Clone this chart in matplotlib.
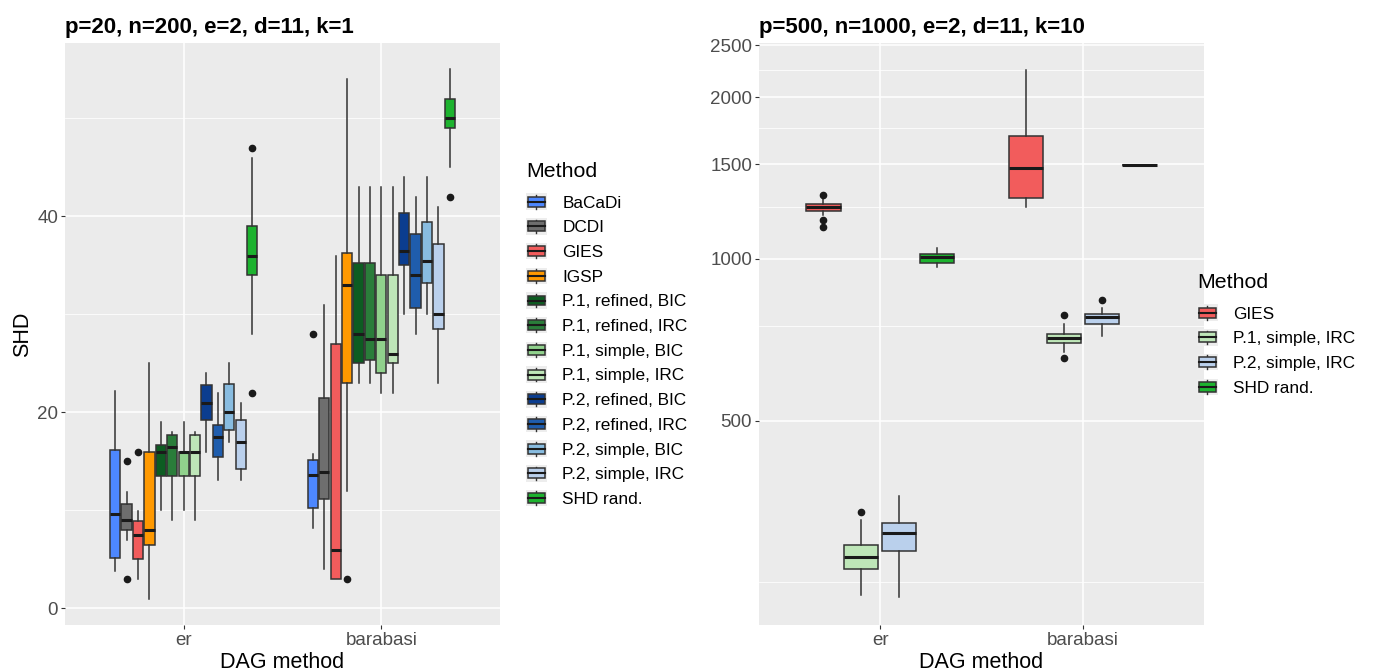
import matplotlib
matplotlib.use("Agg")
import matplotlib.pyplot as plt
from matplotlib.patches import Rectangle
from matplotlib.lines import Line2D
from matplotlib.legend_handler import HandlerBase
from matplotlib.ticker import FixedLocator, NullFormatter, FixedFormatter

plt.rcParams["font.family"] = ["Liberation Sans", "DejaVu Sans"]

# ---- left panel: p=20, n=200 ----
METHODS = ["BaCaDi", "DCDI", "GIES", "IGSP",
           "P.1, refined, BIC", "P.1, refined, IRC", "P.1, simple, BIC", "P.1, simple, IRC",
           "P.2, refined, BIC", "P.2, refined, IRC", "P.2, simple, BIC", "P.2, simple, IRC",
           "SHD rand."]
COLORS = ["#4D87FF", "#6E6E6E", "#F25C5C", "#FF9900",
          "#0D5C22", "#2A7D3A", "#90D18C", "#BEE6B8",
          "#0B3D8F", "#1F5DAD", "#88BCE0", "#BAD0EC",
          "#1DB32F"]
GROUPS = ["er", "barabasi"]

ER_LO = [3.8, 7.0, 3.0, 1.0, 10.0, 9.0, 10.0, 9.0, 16.0, 13.1, 17.0, 13.1, 28.0]
ER_Q1 = [5.1, 8.0, 5.0, 6.5, 13.5, 13.5, 13.5, 13.5, 19.2, 15.4, 18.2, 14.25, 34.0]
ER_MED = [9.6, 9.0, 7.5, 8.0, 16.0, 16.5, 16.0, 16.0, 21.0, 17.5, 20.0, 17.0, 36.0]
ER_Q3 = [16.2, 10.7, 8.9, 16.0, 16.7, 17.7, 16.0, 17.7, 22.75, 18.7, 22.9, 19.2, 39.0]
ER_HI = [22.2, 11.9, 9.9, 25.0, 19.0, 18.0, 19.0, 18.0, 24.0, 22.0, 25.0, 21.0, 46.0]
ER_OUT = [[], [15, 3], [16], [], [], [], [], [], [], [], [], [], [47, 22]]

BA_LO = [8.2, 4.0, 3.0, 12.0, 23.0, 23.0, 22.0, 22.0, 30.0, 28.0, 30.0, 23.0, 45.0]
BA_Q1 = [10.2, 11.2, 3.0, 23.0, 25.0, 25.3, 24.0, 25.0, 35.0, 30.7, 33.2, 28.5, 49.0]
BA_MED = [13.6, 13.9, 6.0, 33.0, 28.0, 27.5, 27.5, 26.0, 36.5, 34.0, 35.5, 30.0, 50.0]
BA_Q3 = [15.1, 21.5, 27.0, 36.3, 35.2, 35.2, 34.0, 34.0, 40.4, 38.2, 39.4, 37.2, 52.0]
BA_HI = [15.8, 31.0, 36.0, 54.0, 43.0, 43.0, 43.0, 43.0, 44.0, 42.0, 44.0, 41.0, 55.0]
BA_OUT = [[28], [], [], [3], [], [], [], [], [], [], [], [], [42]]

# ---- right panel: p=500, n=1000 ----
R_METHODS = ["GIES", "P.1, simple, IRC", "P.2, simple, IRC", "SHD rand."]
R_COLORS = ["#F25C5C", "#BEE6B8", "#BAD0EC", "#1DB32F"]

R_ER_LO = [1206, 237, 235, 966]
R_ER_Q1 = [1230, 264, 286, 984]
R_ER_MED = [1249, 278, 308, 1007]
R_ER_Q3 = [1266, 293, 322, 1022]
R_ER_HI = [1292, 326, 362, 1047]
R_ER_OUT = [[1317, 1182, 1147], [338], [], []]

R_BA_LO = [1250, 672, 717, 1494]
R_BA_Q1 = [1299, 696, 757, 1494]
R_BA_MED = [1474, 712, 778, 1494]
R_BA_Q3 = [1692, 725, 790, 1494]
R_BA_HI = [2245, 757, 810, 1494]
R_BA_OUT = [[], [786, 653], [838], []]

EDGE = "#333333"
PANEL = "#EBEBEB"
TICKCOL = "#4D4D4D"


def stats_for(lo, q1, med, q3, hi, out):
    return [dict(whislo=a, q1=b, med=c, q3=d, whishi=e, fliers=f)
            for a, b, c, d, e, f in zip(lo, q1, med, q3, hi, out)]


def draw_group(ax, gpos, stats, colors):
    n = len(stats)
    slot = 0.75 / n
    pos = [gpos + (i - (n - 1) / 2) * slot for i in range(n)]
    bp = ax.bxp(stats, positions=pos, widths=slot * 0.9, patch_artist=True,
                showcaps=False, manage_ticks=False,
                boxprops=dict(edgecolor=EDGE, linewidth=1.1),
                whiskerprops=dict(color=EDGE, linewidth=1.1),
                medianprops=dict(color="#1A1A1A", linewidth=2.2, solid_capstyle="butt"),
                flierprops=dict(marker="o", markerfacecolor="#1A1A1A",
                                markeredgecolor="#1A1A1A", markersize=4.5))
    for patch, c in zip(bp["boxes"], colors):
        patch.set_facecolor(c)
        patch.set_zorder(2)
    for m in bp["medians"]:
        m.set_zorder(3)


def style_axis(ax):
    ax.set_facecolor(PANEL)
    for s in ax.spines.values():
        s.set_visible(False)
    ax.set_axisbelow(True)
    ax.grid(which="major", color="white", linewidth=1.1)
    ax.grid(which="minor", axis="y", color="white", linewidth=0.55)
    ax.tick_params(which="major", length=3, width=0.8, color=EDGE,
                   labelsize=13.5, labelcolor=TICKCOL, pad=2)
    ax.tick_params(which="minor", length=0)
    ax.set_xlim(0.4, 2.6)
    ax.set_xticks([1, 2])
    ax.set_xticklabels(GROUPS)
    ax.set_xlabel("DAG method", fontsize=15.5, labelpad=2)


class BoxKey(HandlerBase):
    def create_artists(self, legend, orig_handle, xdescent, ydescent,
                       width, height, fontsize, trans):
        x0, y0 = -xdescent, -ydescent
        bg = Rectangle((x0, y0), width, height, facecolor="#EDEDED",
                       edgecolor="none", transform=trans)
        cx = x0 + width / 2
        wl = Line2D([cx, cx], [y0 + 1, y0 + height - 1], color=EDGE, lw=1.0, transform=trans)
        box = Rectangle((x0 + width * 0.1, y0 + height * 0.2), width * 0.8, height * 0.6,
                        facecolor=orig_handle.get_facecolor(), edgecolor=EDGE,
                        lw=1.1, transform=trans)
        med = Line2D([x0 + width * 0.1, x0 + width * 0.9], [y0 + height / 2] * 2,
                     color="#1A1A1A", lw=1.5, transform=trans)
        return [bg, wl, box, med]


def add_legend(fig, labels, colors, x, y):
    handles = [Rectangle((0, 0), 1, 1, facecolor=c) for c in colors]
    leg = fig.legend(handles, labels, loc="upper left", bbox_to_anchor=(x, y),
                     bbox_transform=fig.transFigure, frameon=False,
                     title="Method", title_fontsize=15.4, fontsize=12.4,
                     handler_map={Rectangle: BoxKey()},
                     handlelength=1.2, handleheight=1.1, labelspacing=0.44,
                     handletextpad=0.9, borderpad=0, borderaxespad=0,
                     alignment="left")
    # a bit more room between the title and the first key, as in ggplot
    leg._legend_box.sep = 0.44 * 12.4 + 3.5
    return leg


W, H = 1387, 671
fig = plt.figure(figsize=(W / 100, H / 100), dpi=100)

# left panel
ax1 = fig.add_axes([65 / W, 1 - 625 / H, 435 / W, 582 / H])
style_axis(ax1)
draw_group(ax1, 1, stats_for(ER_LO, ER_Q1, ER_MED, ER_Q3, ER_HI, ER_OUT), COLORS)
draw_group(ax1, 2, stats_for(BA_LO, BA_Q1, BA_MED, BA_Q3, BA_HI, BA_OUT), COLORS)
ax1.set_ylim(-1.7, 57.7)
ax1.set_yticks([0, 20, 40])
ax1.yaxis.set_minor_locator(FixedLocator([10, 30, 50]))
ax1.set_ylabel("SHD", fontsize=15.5, labelpad=3)
ax1.set_title("p=20, n=200, e=2, d=11, k=1", loc="left", fontsize=16,
              fontweight="bold", pad=7)

# right panel
ax2 = fig.add_axes([759 / W, 1 - 625 / H, 445 / W, 582 / H])
ax2.set_yscale("log")
style_axis(ax2)
draw_group(ax2, 1, stats_for(R_ER_LO, R_ER_Q1, R_ER_MED, R_ER_Q3, R_ER_HI, R_ER_OUT), R_COLORS)
draw_group(ax2, 2, stats_for(R_BA_LO, R_BA_Q1, R_BA_MED, R_BA_Q3, R_BA_HI, R_BA_OUT), R_COLORS)
ax2.set_ylim(208, 2525)
ax2.yaxis.set_major_locator(FixedLocator([500, 1000, 1500, 2000, 2500]))
ax2.yaxis.set_major_formatter(FixedFormatter(["500", "1000", "1500", "2000", "2500"]))
ax2.yaxis.set_minor_locator(FixedLocator([250, 750, 1250, 1750, 2250]))
ax2.yaxis.set_minor_formatter(NullFormatter())
ax2.set_title("p=500, n=1000, e=2, d=11, k=10", loc="left", fontsize=16,
              fontweight="bold", pad=7)

add_legend(fig, METHODS, COLORS, 526 / W, 1 - 162 / H)
add_legend(fig, R_METHODS, R_COLORS, 1197 / W, 1 - 273 / H)

fig.savefig("out.png", dpi=100)
